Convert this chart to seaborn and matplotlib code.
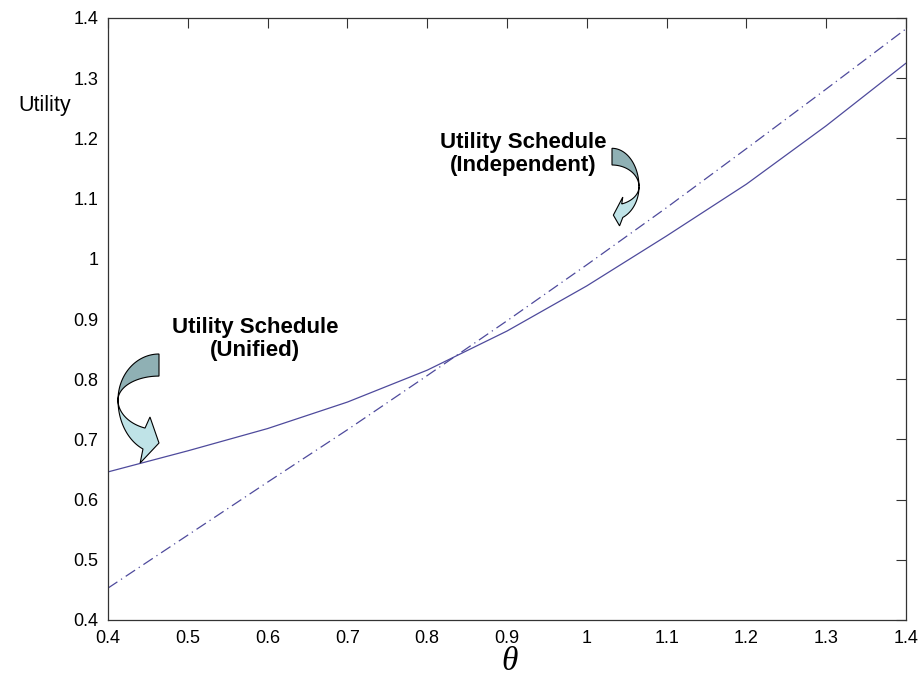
import numpy as np
import pandas as pd
import matplotlib
matplotlib.use("Agg")
import matplotlib.pyplot as plt
import seaborn as sns
from matplotlib.patches import Polygon
from matplotlib.transforms import Affine2D

# ---- data ----
theta = [0.4, 0.5, 0.6, 0.7, 0.8, 0.9, 1.0, 1.1, 1.2, 1.3, 1.4]
unified = [0.646, 0.681, 0.718, 0.762, 0.815, 0.880, 0.955, 1.038, 1.124, 1.221, 1.325]
independent = [0.453, 0.541, 0.629, 0.716, 0.806, 0.897, 0.990, 1.085, 1.183, 1.282, 1.382]
tick_vals = [0.4, 0.5, 0.6, 0.7, 0.8, 0.9, 1.0, 1.1, 1.2, 1.3, 1.4]
tick_labels = ["0.4", "0.5", "0.6", "0.7", "0.8", "0.9", "1", "1.1", "1.2", "1.3", "1.4"]
label_unified = "Utility Schedule\n(Unified)"
label_independent = "Utility Schedule\n(Independent)"

W, H = 922, 689
sns.set_style("white")
plt.rcParams["font.family"] = ["Liberation Sans", "DejaVu Sans"]
plt.rcParams["text.color"] = "black"
plt.rcParams["axes.labelcolor"] = "black"

fig = plt.figure(figsize=(W / 100, H / 100), dpi=100)
ax = fig.add_axes([108 / W, 1 - 620 / H, (906 - 108) / W, (620 - 18) / H])

line_color = "#4e4a9c"
df = pd.DataFrame({"theta": theta, "unified": unified, "independent": independent})
sns.lineplot(data=df, x="theta", y="unified", ax=ax, color=line_color, lw=0.9)
sns.lineplot(data=df, x="theta", y="independent", ax=ax, color=line_color, lw=0.9,
             linestyle=(0, (9, 3.5, 1, 3.5)))

ax.set_xlim(0.4, 1.4)
ax.set_ylim(0.4, 1.4)
ax.set_xticks(tick_vals)
ax.set_xticklabels(tick_labels)
ax.set_yticks(tick_vals)
ax.set_yticklabels(tick_labels)
ax.tick_params(direction="in", length=7, width=0.8, top=True, right=True,
               labelsize=13, pad=7, color="#333333", labelcolor="black")
for s in ax.spines.values():
    s.set_visible(True)
    s.set_color("#333333")
    s.set_linewidth(0.9)

ax.set_ylabel("Utility", rotation=0, fontsize=15.5, ha="center", va="center", color="black")
ax.yaxis.set_label_coords((45 - 108) / 798, (620 - 105) / 602)
ax.set_xlabel("θ", fontsize=24, fontstyle="italic", color="black",
              family=["Liberation Serif", "DejaVu Serif"])
ax.xaxis.set_label_coords((510 - 108) / 798, (620 - 646) / 602)

# pixel -> figure transform (image coordinates, y downward)
pix = Affine2D().scale(1 / W, -1 / H).translate(0, 1) + fig.transFigure

fig.text(255, 339, label_unified, transform=pix, ha="center", va="center",
         fontsize=16, fontweight="bold", linespacing=1.15, color="black")
fig.text(523, 154, label_independent, transform=pix, ha="center", va="center",
         fontsize=16, fontweight="bold", linespacing=1.15, color="black")


def curved_arrow(cx, cy, sx, sy, mirror, ry_in_top, ry_in_low, t_in_low,
                 ry_out_low, t_out_low, barb_top, tip, barb_bot):
    def pt(nx, ny):
        return (cx + mirror * nx * sx, cy + ny * sy)

    def arc(ry, t0, t1, n=40):
        t = np.radians(np.linspace(t0, t1, n))
        return [(cx + mirror * sx * np.cos(a), cy - ry * sy * np.sin(a)) for a in t]

    upper = arc(1.0, 90, 180) + arc(ry_in_top, 180, 90)
    lower = (arc(ry_out_low, 180, t_out_low) + [pt(*barb_bot), pt(*tip), pt(*barb_top)]
             + arc(ry_in_low, t_in_low, 180))
    p1 = Polygon(upper, closed=True, transform=pix, facecolor="#8fb0b4",
                 edgecolor="black", lw=0.8, zorder=5, clip_on=False)
    p2 = Polygon(lower, closed=True, transform=pix, facecolor="#bfe3e7",
                 edgecolor="black", lw=0.8, zorder=6, clip_on=False)
    fig.add_artist(p1)
    fig.add_artist(p2)


# unified arrow (bulges left, points right-down to the solid line)
curved_arrow(159, 400, 41, 46, 1, 0.52, 0.649, 250.1, 1.157, 247.0,
             (-0.22, 0.37), (0.0, 0.935), (-0.46, 1.37))
# independent arrow (bulges right, points left-down to the dash-dot line)
curved_arrow(612, 186.7, 27, 38.4, -1, 0.565, 0.482, 248.9, 0.873, 246.4,
             (-0.40, 0.27), (-0.05, 0.74), (-0.28, 1.02))

fig.savefig("out.png", dpi=100)
